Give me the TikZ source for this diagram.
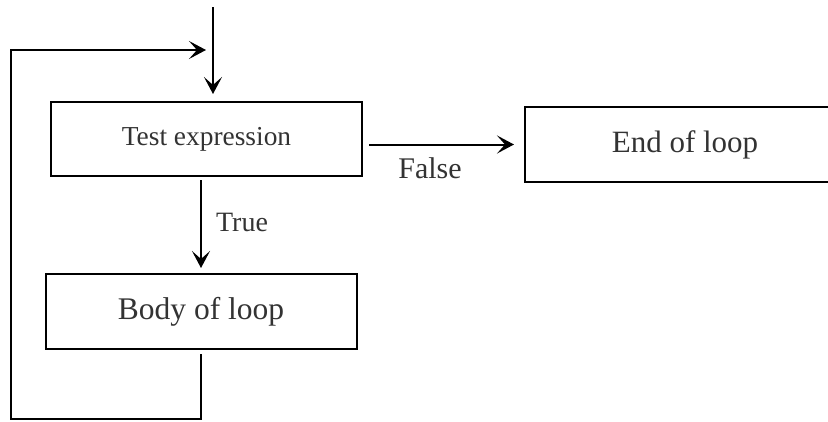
\documentclass[tikz,border=0pt]{standalone}
\usepackage{fontspec}
\setmainfont{Liberation Serif}
\usetikzlibrary{arrows.meta}
\begin{document}
\begin{tikzpicture}[x=1pt,y=-1pt,
  box/.style={draw=black, line width=2pt, rectangle, inner sep=0pt, text=black!80},
  arr/.style={draw=black, line width=2pt, -{Stealth[length=17pt,width=18pt,inset=8pt]}},
  plain/.style={draw=black, line width=2pt},
  lbl/.style={text=black!80, inner sep=0pt}]
\useasboundingbox (0,0) rectangle (828,421);
\node[box, minimum width=311pt, minimum height=74pt, font=\fontsize{27.4}{32}\selectfont] (test) at (206.5,139) {Test expression};
\node[box, minimum width=311pt, minimum height=75pt, font=\fontsize{31.5}{36}\selectfont] (body) at (201,311.5) {Body of loop};
\node[box, minimum width=320pt, minimum height=75pt, font=\fontsize{31}{36}\selectfont] (endl) at (685,144.5) {End of loop};
\coordinate (entry) at (213,7);
\coordinate (merge) at (213,50);
\coordinate (c2) at (11,419);
\coordinate (c3) at (11,50);
\draw[plain] (entry) -- (merge);
\draw[arr, shorten >=7pt] (merge) -- (merge |- test.north);
\draw[arr, shorten <=3pt, shorten >=5pt] (body.north |- test.south) -- (body.north);
\draw[arr, shorten <=6pt, shorten >=10pt] (test.east |- endl.west) -- (endl.west);
\draw[arr, shorten <=4pt, shorten >=7pt] (body.south) -- (body.south |- c2) -- (c2) -- (c3) -- (merge);
\node[lbl, font=\fontsize{28}{32}\selectfont] (ltrue) at (242,222) {True};
\node[lbl, font=\fontsize{30}{34}\selectfont] (lfalse) at (430,168) {False};
\end{tikzpicture}
\end{document}
